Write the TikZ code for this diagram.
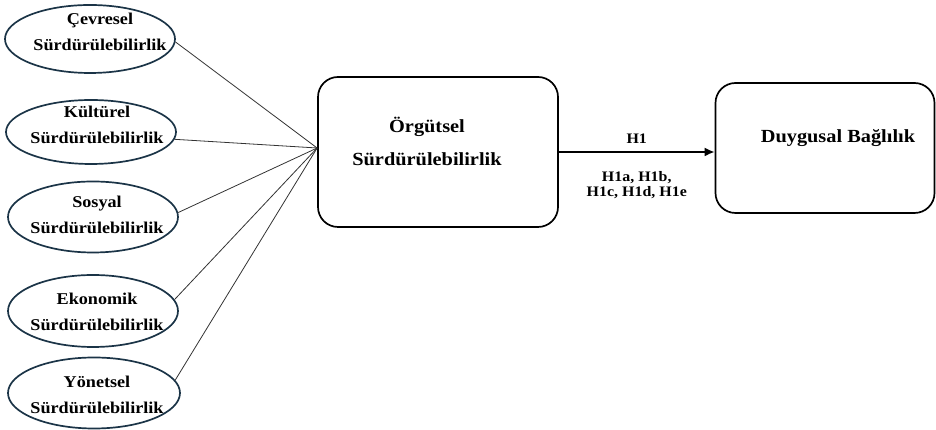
\documentclass[tikz,border=0pt]{standalone}
\usepackage{fontspec}
\setmainfont{Liberation Serif}[FakeStretch=1.1]
\usepackage{xcolor}
\usepackage{tikz}
\usetikzlibrary{shapes.geometric, arrows.meta}

\definecolor{navy}{HTML}{1B3447}

\begin{document}
\begin{tikzpicture}[x=1pt, y=1pt, thick]
        % Define styles
        \tikzstyle{dimen} = [ellipse, draw=navy, line width=1.7pt, minimum width=170pt, minimum height=68pt, inner sep=0pt]
        \tikzstyle{dimtext} = [align=center, inner sep=0pt, font=\bfseries\fontsize{16.5}{26}\selectfont]
        \tikzstyle{bigbox} = [rectangle, draw, line width=1.7pt, rounded corners=20pt]
        \tikzstyle{boxtext} = [align=center, inner sep=0pt, font=\bfseries\fontsize{18.5}{33}\selectfont]
        \tikzstyle{link} = [draw=black!80, line width=0.8pt]
        \tikzstyle{arrow} = [-{Latex[length=10pt, width=9pt]}, line width=1.8pt]
        \tikzstyle{hyp} = [align=center, inner sep=0pt, font=\bfseries\fontsize{14.5}{15}\selectfont]

        \useasboundingbox (0,0) rectangle (936,430);

        % Nodes
        \node (cev) [dimen] at (90,391) {};
        \node (cevT) [dimtext] at ([xshift=10, yshift=7]cev.center) {Çevresel\\Sürdürülebilirlik};

        \node (kul) [dimen, minimum height=64pt] at (91,298) {};
        \node (kulT) [dimtext] at ([xshift=6, yshift=7]kul.center) {Kültürel\\Sürdürülebilirlik};

        \node (sos) [dimen, minimum height=71pt] at (93,213) {};
        \node (sosT) [dimtext] at ([xshift=4, yshift=2]sos.center) {Sosyal\\Sürdürülebilirlik};

        \node (eko) [dimen, minimum height=72pt] at (93,119) {};
        \node (ekoT) [dimtext] at ([xshift=4, yshift=-1]eko.center) {Ekonomik\\Sürdürülebilirlik};

        \node (yon) [dimen, minimum width=172pt, minimum height=71pt] at (94,37) {};
        \node (yonT) [dimtext] at ([xshift=3, yshift=-2]yon.center) {Yönetsel\\Sürdürülebilirlik};

        \node (org) [bigbox, minimum width=240pt, minimum height=150pt] at (438,278) {};
        \node (orgT) [boxtext] at ([xshift=-11, yshift=11]org.center) {Örgütsel\\Sürdürülebilirlik};

        \node (duy) [bigbox, minimum width=219pt, minimum height=130pt] at (825,282) {};
        \node (duyT) [boxtext] at ([xshift=13, yshift=10]duy.center) {Duygusal Bağlılık};

        \coordinate (hub) at ([yshift=4]org.west);

        % Connections
        \draw [link] (cev.-2) -- (hub);
        \draw [link] (kul.-5) -- (hub);
        \draw [link] (sos.3) -- (hub);
        \draw [link] (eko.8) -- (hub);
        \draw [link] (yon.9) -- (hub);

        \draw [arrow] (org.east) -- node[hyp, midway, yshift=13] {H1} node[hyp, midway, yshift=-33] {H1a, H1b,\\H1c, H1d, H1e} (org.east -| duy.west);

    \end{tikzpicture}
\end{document}
